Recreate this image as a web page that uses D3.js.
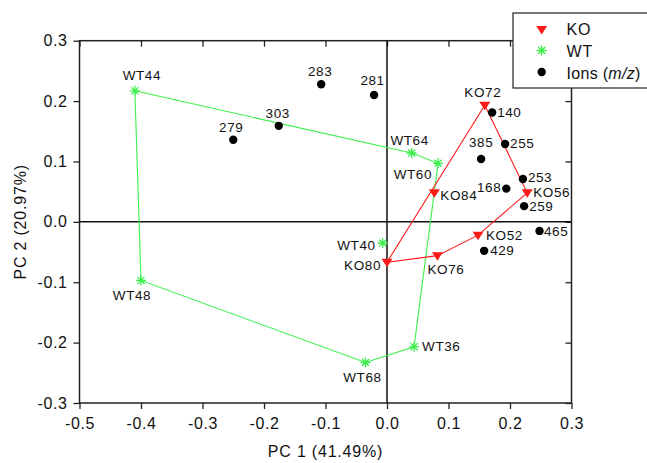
<!DOCTYPE html>
<html lang="en">
<head>
<meta charset="utf-8">
<title>PCA scores</title>
<script src="https://d3js.org/d3.v7.min.js"></script>
<style>
  body { margin: 0; background: #fff; }
  svg { font-family: "Liberation Sans", Arial, Helvetica, sans-serif; }
</style>
</head>
<body>
<div id="chart"></div>
<script>
// KO samples (hull order)
var koNames = ["KO72", "KO56", "KO52", "KO76", "KO80", "KO84"];
var koPC1 = [0.159, 0.228, 0.148, 0.082, 0.000, 0.077];
var koPC2 = [0.193, 0.048, -0.022, -0.056, -0.067, 0.048];
var koHull = ["KO72", "KO56", "KO52", "KO76", "KO80", "KO72"];

// WT samples
var wtNames = ["WT44", "WT64", "WT60", "WT36", "WT68", "WT48", "WT40"];
var wtPC1 = [-0.410, 0.040, 0.083, 0.044, -0.035, -0.400, -0.007];
var wtPC2 = [0.217, 0.114, 0.097, -0.207, -0.233, -0.097, -0.035];
var wtHull = ["WT44", "WT64", "WT60", "WT36", "WT68", "WT48", "WT44"];

// ions (m/z) loadings
var ionNames = ["283", "281", "303", "279", "140", "255", "385", "253", "168", "259", "465", "429"];
var ionPC1 = [-0.107, -0.021, -0.176, -0.250, 0.171, 0.192, 0.153, 0.221, 0.194, 0.223, 0.248, 0.158];
var ionPC2 = [0.228, 0.210, 0.159, 0.136, 0.181, 0.129, 0.104, 0.071, 0.055, 0.026, -0.015, -0.048];

var xTicks = [-0.5, -0.4, -0.3, -0.2, -0.1, 0.0, 0.1, 0.2, 0.3];
var yTicks = [-0.3, -0.2, -0.1, 0.0, 0.1, 0.2, 0.3];

// label placement: [anchor, dx, dy]
var labelPos = {
  WT44: ["middle", 7, -11], WT64: ["middle", -2, -8], WT60: ["end", -6, 16],
  WT36: ["start", 8, 4], WT68: ["middle", -3, 19], WT48: ["middle", -9, 20],
  WT40: ["end", -7, 7],
  KO72: ["middle", -2, -8], KO56: ["start", 6, 4], KO52: ["start", 8, 5],
  KO76: ["start", -10, 18], KO80: ["end", -6, 8], KO84: ["start", 6, 7],
  "283": ["middle", -1, -8], "281": ["middle", -1.5, -10], "303": ["middle", -1, -8],
  "279": ["middle", -2, -8], "140": ["start", 5, 4], "255": ["start", 5, 4],
  "385": ["middle", 0, -12], "253": ["start", 5, 3], "168": ["end", -5, 3],
  "259": ["start", 5, 5], "465": ["start", 4.5, 5], "429": ["start", 6, 4]
};

var W = 647, H = 463;
var m = {left: 79.5, right: 571.5, top: 40.7, bottom: 403};
var red = "#ff1a1a", green = "#3cf04c";
var fmt = function(d) { return d3.format(".1f")(d).replace("\u2212", "-"); };

var x = d3.scaleLinear().domain([-0.5, 0.3]).range([m.left, m.right]);
var y = d3.scaleLinear().domain([-0.3, 0.3]).range([m.bottom, m.top]);

var svg = d3.select("#chart").append("svg")
  .attr("width", W).attr("height", H);

function zip(names, a, b) {
  return names.map(function(n, i) { return {name: n, x: a[i], y: b[i]}; });
}
var ko = zip(koNames, koPC1, koPC2);
var wt = zip(wtNames, wtPC1, wtPC2);
var ions = zip(ionNames, ionPC1, ionPC2);

function styleTicks(g) {
  g.select(".domain").remove();
  g.selectAll("line").attr("stroke", "#222").attr("stroke-width", 1.3);
  g.selectAll("text").attr("font-size", 16).attr("fill", "#111")
    .attr("letter-spacing", 0.6)
    .attr("font-family", "Liberation Sans, Arial, sans-serif");
}

// axes
svg.append("g").attr("transform", "translate(0," + m.bottom + ")")
  .call(d3.axisBottom(x).tickValues(xTicks).tickFormat(fmt).tickSizeInner(6).tickSizeOuter(0))
  .call(styleTicks)
  .call(function(g) { g.selectAll("text").attr("y", 15); });
svg.append("g").attr("transform", "translate(" + m.left + ",0)")
  .call(d3.axisLeft(y).tickValues(yTicks).tickFormat(fmt).tickSizeInner(6).tickSizeOuter(0))
  .call(styleTicks)
  .call(function(g) { g.selectAll("text").attr("x", -12); });
// mirrored inward ticks on top and right
svg.append("g").attr("transform", "translate(0," + m.top + ")")
  .call(d3.axisBottom(x).tickValues(xTicks).tickFormat("").tickSizeInner(6).tickSizeOuter(0))
  .call(styleTicks);
svg.append("g").attr("transform", "translate(" + m.right + ",0)")
  .call(d3.axisLeft(y).tickValues(yTicks).tickFormat("").tickSizeInner(6).tickSizeOuter(0))
  .call(styleTicks);

// frame and zero lines
svg.append("rect").attr("x", m.left).attr("y", m.top)
  .attr("width", m.right - m.left).attr("height", m.bottom - m.top)
  .attr("fill", "none").attr("stroke", "#222").attr("stroke-width", 1.5);
svg.append("line").attr("x1", m.left).attr("x2", m.right).attr("y1", y(0)).attr("y2", y(0))
  .attr("stroke", "#111").attr("stroke-width", 1.5);
svg.append("line").attr("x1", x(0)).attr("x2", x(0)).attr("y1", m.top).attr("y2", m.bottom)
  .attr("stroke", "#111").attr("stroke-width", 1.5);

// axis titles
svg.append("text").attr("x", (m.left + m.right) / 2).attr("y", 457)
  .attr("text-anchor", "middle").attr("font-size", 16).attr("letter-spacing", 0.8)
  .attr("fill", "#111")
  .text("PC 1 (41.49%)");
svg.append("text")
  .attr("transform", "translate(26," + ((m.top + m.bottom) / 2) + ") rotate(-90)")
  .attr("text-anchor", "middle").attr("font-size", 16).attr("letter-spacing", 0.8)
  .attr("fill", "#111")
  .text("PC 2 (20.97%)");

// hull lines
function hullLine(names, data, color) {
  var pts = names.map(function(n) { return data.find(function(d) { return d.name === n; }); });
  svg.append("path")
    .attr("d", d3.line().x(function(d) { return x(d.x); }).y(function(d) { return y(d.y); })(pts))
    .attr("fill", "none").attr("stroke", color).attr("stroke-width", 1.1);
}
hullLine(wtHull, wt, green);
hullLine(koHull, ko, red);

// markers
function tri(cx, cy) {
  return "M" + (cx - 5.5) + "," + (cy - 3.5) + "L" + (cx + 5.5) + "," + (cy - 3.5) + "L" + cx + "," + (cy + 5) + "Z";
}
function star(cx, cy) {
  var r = 5, p = "";
  for (var k = 0; k < 4; k++) {
    var a = k * Math.PI / 4;
    p += "M" + (cx - r * Math.cos(a)) + "," + (cy - r * Math.sin(a)) + "L" + (cx + r * Math.cos(a)) + "," + (cy + r * Math.sin(a));
  }
  return p;
}

svg.selectAll(".ion").data(ions).enter().append("circle")
  .attr("class", "ion")
  .attr("cx", function(d) { return x(d.x); })
  .attr("cy", function(d) { return y(d.y); })
  .attr("r", 4.2).attr("fill", "#000");

svg.selectAll(".wt").data(wt).enter().append("path")
  .attr("class", "wt")
  .attr("d", function(d) { return star(x(d.x), y(d.y)); })
  .attr("stroke", green).attr("stroke-width", 1.3).attr("fill", "none");

svg.selectAll(".ko").data(ko).enter().append("path")
  .attr("class", "ko")
  .attr("d", function(d) { return tri(x(d.x), y(d.y)); })
  .attr("fill", red);

// point labels
var all = wt.concat(ko, ions);
svg.selectAll(".lbl").data(all).enter().append("text")
  .attr("class", "lbl")
  .attr("x", function(d) { return x(d.x) + labelPos[d.name][1]; })
  .attr("y", function(d) { return y(d.y) + labelPos[d.name][2]; })
  .attr("text-anchor", function(d) { return labelPos[d.name][0]; })
  .attr("font-size", 13.5).attr("letter-spacing", 0.6).attr("fill", "#111")
  .text(function(d) { return d.name; });

// legend
var lg = svg.append("g");
lg.append("rect").attr("x", 513).attr("y", 13).attr("width", 150).attr("height", 75)
  .attr("fill", "#fff").attr("stroke", "#222").attr("stroke-width", 1.2);
lg.append("path").attr("d", tri(541.7, 29.5)).attr("fill", red);
lg.append("path").attr("d", star(541.7, 50.5)).attr("stroke", green).attr("stroke-width", 1.3);
lg.append("circle").attr("cx", 541.7).attr("cy", 72).attr("r", 4.2).attr("fill", "#000");
lg.selectAll(".lgt").data(["KO", "WT"]).enter().append("text")
  .attr("x", 566.5).attr("y", function(d, i) { return 35 + i * 22; })
  .attr("font-size", 16).attr("letter-spacing", 0.8).attr("fill", "#111")
  .text(function(d) { return d; });
var ionT = lg.append("text").attr("x", 566.5).attr("y", 79)
  .attr("font-size", 16).attr("letter-spacing", 0.3).attr("fill", "#111");
ionT.append("tspan").text("Ions (");
ionT.append("tspan").attr("font-style", "italic").text("m/z");
ionT.append("tspan").text(")");
</script>
</body>
</html>
